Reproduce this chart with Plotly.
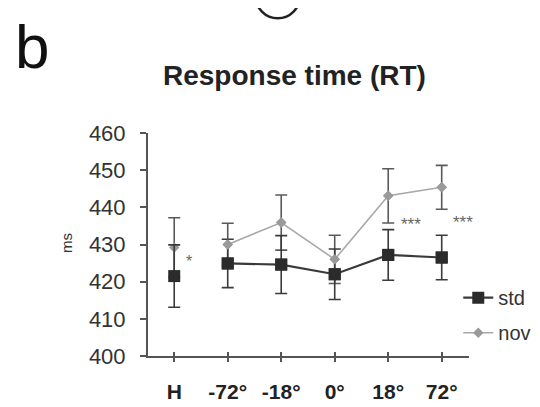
import plotly.graph_objects as go

categories = ["H", "-72°", "-18°", "0°", "18°", "72°"]
std_mean = [421.5, 424.9, 424.6, 422.0, 427.2, 426.5]
std_err = [8.4, 6.5, 7.8, 6.8, 6.8, 6.0]
nov_mean = [429.2, 430.0, 435.9, 426.0, 443.1, 445.4]
nov_err = [8.0, 5.7, 7.4, 6.5, 7.3, 5.9]
y_ticks = [400, 410, 420, 430, 440, 450, 460]

xi = list(range(len(categories)))
W, H = 540, 407
L, R, T, B = 140, 71, 125, 47
FONT = "Liberation Sans, Arial, sans-serif"

def px(x):
    return (x - L) / (W - L - R)

def py(y):
    return (H - B - y) / (H - T - B)

fig = go.Figure()

# error bars + markers (all points)
fig.add_trace(go.Scatter(
    x=xi, y=nov_mean, mode="markers", showlegend=False,
    marker=dict(symbol="diamond", size=8, color="#9a9a9a"),
    error_y=dict(type="data", array=nov_err, color="#5a5a5a", thickness=1.6, width=6),
))
fig.add_trace(go.Scatter(
    x=xi, y=std_mean, mode="markers", showlegend=False,
    marker=dict(symbol="square", size=12, color="#2b2b2b"),
    error_y=dict(type="data", array=std_err, color="#3a3a3a", thickness=1.6, width=6),
))
# connecting lines (H is not connected)
fig.add_trace(go.Scatter(
    x=xi[1:], y=std_mean[1:], mode="lines+markers", name="std", legendgroup="a",
    line=dict(color="#3a3a3a", width=2.2),
    marker=dict(symbol="square", size=12, color="#2b2b2b"),
))
fig.add_trace(go.Scatter(
    x=xi[1:], y=nov_mean[1:], mode="lines+markers", name="nov", legendgroup="b",
    line=dict(color="#a8a8a8", width=1.6),
    marker=dict(symbol="diamond", size=8, color="#9a9a9a"),
))

fig.update_layout(
    width=W, height=H,
    margin=dict(l=L, r=R, t=T, b=B),
    paper_bgcolor="white", plot_bgcolor="white",
    font=dict(family=FONT, color="#222"),
    showlegend=True,
    legend=dict(x=px(458), y=py(278), xanchor="left", yanchor="top",
                font=dict(size=20, color="#333", family=FONT),
                bgcolor="rgba(0,0,0,0)", tracegroupgap=6),
    xaxis=dict(range=[-0.49, 5.51], tickmode="array", tickvals=xi, ticktext=categories,
               showgrid=False, zeroline=False, showline=True, linecolor="#555", linewidth=2,
               ticks="outside", ticklen=4, tickcolor="#555", tickwidth=1.5,
               ticklabelstandoff=12,
               tickfont=dict(size=21, family=FONT, color="#222", weight="bold")),
    xaxis2=dict(range=[-0.49, 5.51], overlaying="x", tickmode="array", tickvals=xi,
                showticklabels=False, showgrid=False, zeroline=False,
                ticks="inside", ticklen=4, tickcolor="#555", tickwidth=1.5),
    yaxis=dict(range=[400, 460], tickmode="array", tickvals=y_ticks,
               showgrid=False, zeroline=False, showline=True, linecolor="#555", linewidth=2,
               ticks="outside", ticklen=6, tickcolor="#555", tickwidth=1.5,
               ticklabelstandoff=10,
               tickfont=dict(size=22, family=FONT, color="#333")),
)
# dummy trace to show xaxis2 ticks
fig.add_trace(go.Scatter(x=[None], y=[None], xaxis="x2", showlegend=False))

annotations = [
    dict(text="*", x=0.27, y=425.4, xref="x", yref="y", showarrow=False,
         yanchor="middle", font=dict(size=16, color="#666")),
    dict(text="***", x=4.42, y=435.4, xref="x", yref="y", showarrow=False,
         yanchor="middle", font=dict(size=17, color="#666")),
    dict(text="***", x=5.40, y=436.0, xref="x", yref="y", showarrow=False,
         yanchor="middle", font=dict(size=17, color="#666")),
    dict(text="ms", x=px(56), y=py(241), xref="paper", yref="paper", showarrow=False,
         xanchor="center", yanchor="middle",
         textangle=-90, font=dict(size=15, color="#333")),
    dict(text="<b>Response time (RT)</b>", x=px(290), y=py(64), xref="paper", yref="paper",
         xanchor="center", yanchor="middle",
         showarrow=False, font=dict(size=28, color="#222")),
    dict(text="b", x=px(2), y=py(34), xref="paper", yref="paper", showarrow=False,
         xanchor="left", yanchor="middle",
         font=dict(size=62, color="#111")),
]
fig.update_layout(annotations=annotations)

fig.add_shape(type="circle", xref="paper", yref="paper",
              x0=px(250), x1=px(296), y0=py(4), y1=py(-44),
              line=dict(color="#222", width=2.5))

fig.write_html("out.html")
